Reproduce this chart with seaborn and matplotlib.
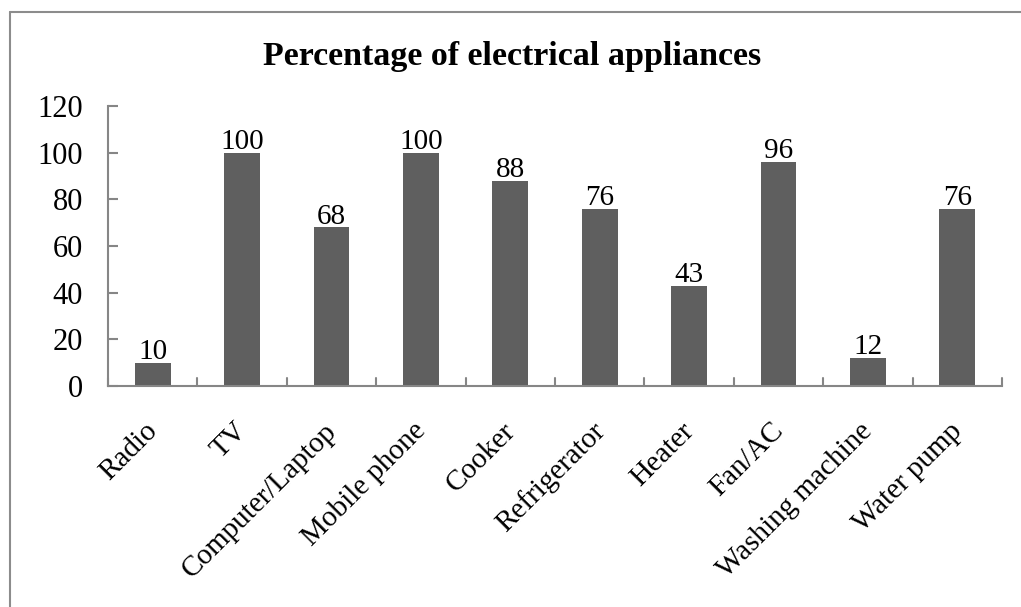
import matplotlib
matplotlib.use("Agg")
import matplotlib.pyplot as plt
import seaborn as sns
import pandas as pd

categories = ["Radio", "TV", "Computer/Laptop", "Mobile phone", "Cooker",
              "Refrigerator", "Heater", "Fan/AC", "Washing machine", "Water pump"]
percentages = [10, 100, 68, 100, 88, 76, 43, 96, 12, 76]
y_ticks = [0, 20, 40, 60, 80, 100, 120]

df = pd.DataFrame({"Appliance": categories, "Percentage": percentages})

sns.set_theme(style="white")
plt.rcParams["font.family"] = ["Liberation Serif", "DejaVu Serif"]

AXIS_GREY = "#868686"

fig = plt.figure(figsize=(10.21, 6.07), dpi=100)
ax = fig.add_axes([108 / 1021, 1 - 386 / 607, (1002 - 108) / 1021, (386 - 106) / 607])

sns.barplot(data=df, x="Appliance", y="Percentage", color="#5f5f5f",
            width=0.4, saturation=1, ax=ax)
for p in ax.patches:
    p.set_edgecolor("none")

for i, v in enumerate(percentages):
    ax.text(i, v - 1.0, f"{v}", ha="center", va="bottom", fontsize=21, color="black")

ax.set_ylim(0, 120)
ax.set_xlim(-0.5, len(categories) - 0.5)
ax.set_yticks(y_ticks)
ax.set_yticklabels([str(t) for t in y_ticks], fontsize=22, color="black")
ax.set_xticks(range(len(categories)))
ax.set_xticklabels([])
ax.set_xlabel("")
ax.set_ylabel("")

# rotated category labels, each ending just below its bar
for i, cat in enumerate(categories):
    ax.annotate(cat, xy=(i, 0), xycoords=("data", "axes fraction"),
                xytext=(-6, -23), textcoords="offset points",
                rotation=45, rotation_mode="anchor", ha="right", va="top",
                fontsize=21, color="black", annotation_clip=False)

# category separators rising from the axis line
ax.tick_params(axis="x", length=0)
for b in range(len(categories) + 1):
    ax.plot([b - 0.5, b - 0.5], [0, 3.3], color=AXIS_GREY, lw=1.5, clip_on=False)
ax.tick_params(axis="y", direction="in", length=7, width=1.5, color=AXIS_GREY,
               left=True, pad=18)

for side in ["top", "right"]:
    ax.spines[side].set_visible(False)
for side in ["left", "bottom"]:
    ax.spines[side].set_color(AXIS_GREY)
    ax.spines[side].set_linewidth(1.5)

fig.text(512 / 1021, 1 - 65 / 607, "Percentage of electrical appliances",
         ha="center", va="baseline", fontsize=24.5, fontweight="bold", color="black")

# outer chart frame
fig.add_artist(plt.Line2D([10 / 1021, 10 / 1021], [0, 1 - 12 / 607],
                          transform=fig.transFigure, color="#8c8c8c", lw=1.5))
fig.add_artist(plt.Line2D([10 / 1021, 1], [1 - 12 / 607, 1 - 12 / 607],
                          transform=fig.transFigure, color="#8c8c8c", lw=1.5))

fig.savefig("out.png", dpi=100)
